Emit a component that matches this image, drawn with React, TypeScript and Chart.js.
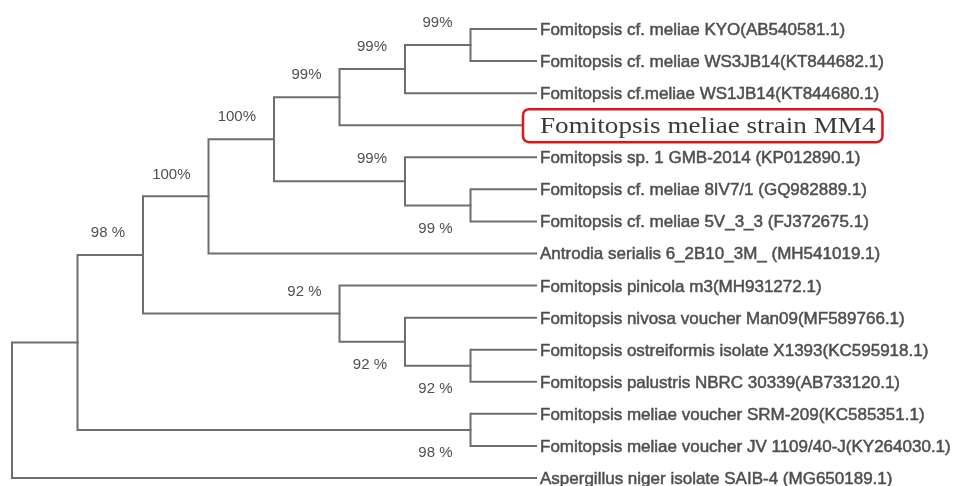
import { useEffect, useRef } from "react";
import { Chart, registerables } from "chart.js";

Chart.register(...registerables);

// Leaves, top to bottom (row index = y value)
const leafNames = [
  "Fomitopsis cf. meliae KYO(AB540581.1)",
  "Fomitopsis cf. meliae WS3JB14(KT844682.1)",
  "Fomitopsis cf.meliae WS1JB14(KT844680.1)",
  "Fomitopsis meliae strain MM4",
  "Fomitopsis sp. 1 GMB-2014 (KP012890.1)",
  "Fomitopsis cf. meliae 8IV7/1 (GQ982889.1)",
  "Fomitopsis cf. meliae 5V_3_3 (FJ372675.1)",
  "Antrodia serialis 6_2B10_3M_ (MH541019.1)",
  "Fomitopsis pinicola m3(MH931272.1)",
  "Fomitopsis nivosa voucher Man09(MF589766.1)",
  "Fomitopsis ostreiformis isolate X1393(KC595918.1)",
  "Fomitopsis palustris NBRC 30339(AB733120.1)",
  "Fomitopsis meliae voucher SRM-209(KC585351.1)",
  "Fomitopsis meliae voucher JV 1109/40-J(KY264030.1)",
  "Aspergillus niger isolate SAIB-4 (MG650189.1)",
];
const highlightedLeaf = "Fomitopsis meliae strain MM4";
const leafDepth = 8;

// Internal nodes of the cladogram
const nodeIds = ["A", "B", "C", "D", "E", "F", "G", "H", "I", "J", "K", "L", "M", "R"];
const nodeDepths = [7, 6, 5, 7, 6, 4, 3, 7, 6, 5, 2, 7, 1, 0];
const nodeChildren = [
  ["L0", "L1"],
  ["A", "L2"],
  ["B", "L3"],
  ["L5", "L6"],
  ["L4", "D"],
  ["C", "E"],
  ["F", "L7"],
  ["L10", "L11"],
  ["L9", "H"],
  ["L8", "I"],
  ["G", "J"],
  ["L12", "L13"],
  ["K", "L"],
  ["M", "L14"],
];
const nodeSupport = ["99%", "99%", "99%", "99 %", "99%", "100%", "100%", "92 %", "92 %", "92 %", "98 %", "98 %", "", ""];
const supportSide = ["above", "above", "above", "below", "above", "above", "above", "below", "below", "above", "above", "below", "", ""];

type Pt = { x: number; y: number };

function buildPositions() {
  const pos: Record<string, Pt> = {};
  leafNames.forEach((_, i) => {
    pos["L" + i] = { x: leafDepth, y: i };
  });
  nodeIds.forEach((id, i) => {
    const ys = nodeChildren[i].map((c) => pos[c].y);
    pos[id] = { x: nodeDepths[i], y: ys.reduce((a, b) => a + b, 0) / ys.length };
  });
  return pos;
}

const LINE = "#6e6e6e";
const TEXT = "#4f4f4f";
const SANS = '"Liberation Sans", Arial, sans-serif';
const SERIF = '"Liberation Serif", "Times New Roman", serif';

export default function App() {
  const ref = useRef<HTMLCanvasElement | null>(null);

  useEffect(() => {
    if (!ref.current) return;
    const pos = buildPositions();

    const datasets = nodeIds.map((id, i) => {
      const [c1, c2] = nodeChildren[i];
      const n = pos[id];
      const a = pos[c1];
      const b = pos[c2];
      return {
        label: id,
        data: [
          { x: a.x, y: a.y },
          { x: n.x, y: a.y },
          { x: n.x, y: b.y },
          { x: b.x, y: b.y },
        ],
        showLine: true,
        borderColor: LINE,
        borderWidth: 2,
        pointRadius: 0,
        fill: false,
        tension: 0,
        borderJoinStyle: "miter" as const,
        borderCapStyle: "square" as const,
      };
    });

    const labelPlugin = {
      id: "treeLabels",
      afterDatasetsDraw(chart: any) {
        const ctx = chart.ctx as CanvasRenderingContext2D;
        const xs = chart.scales.x;
        const ys = chart.scales.y;
        ctx.save();
        // support values
        ctx.font = `15px ${SANS}`;
        ctx.fillStyle = TEXT;
        ctx.textAlign = "right";
        ctx.textBaseline = "middle";
        nodeIds.forEach((id, i) => {
          const s = nodeSupport[i];
          if (!s) return;
          const px = xs.getPixelForValue(nodeDepths[i]) - 18;
          const py = ys.getPixelForValue(pos[id].y) + (supportSide[i] === "above" ? -22 : 23);
          ctx.fillText(s, px, py);
        });
        // leaf names
        ctx.textAlign = "left";
        ctx.textBaseline = "alphabetic";
        leafNames.forEach((name, i) => {
          const px = xs.getPixelForValue(leafDepth) + 4;
          const py = ys.getPixelForValue(i);
          if (name === highlightedLeaf) {
            ctx.save();
            ctx.font = `23px ${SERIF}`;
            const w = ctx.measureText(name).width;
            const sx = 1.18;
            const bx = px - 17;
            const bw = w * sx + 24;
            const by = py - 16;
            const bh = 33;
            ctx.beginPath();
            (ctx as any).roundRect(bx, by, bw, bh, 6);
            ctx.fillStyle = "#ffffff";
            ctx.fill();
            ctx.lineWidth = 2.5;
            ctx.strokeStyle = "#e0141b";
            ctx.stroke();
            ctx.fillStyle = "#3a3a3a";
            ctx.translate(px, py + 8);
            ctx.scale(sx, 1);
            ctx.fillText(name, 0, 0);
            ctx.restore();
          } else {
            ctx.font = `17px ${SANS}`;
            ctx.fillStyle = TEXT;
            ctx.strokeStyle = TEXT;
            ctx.lineWidth = 0.5;
            ctx.fillText(name, px, py + 6);
            ctx.strokeText(name, px, py + 6);
          }
        });
        ctx.restore();
      },
    };

    const chart = new Chart(ref.current, {
      type: "scatter",
      data: { datasets },
      options: {
        animation: false,
        responsive: true,
        maintainAspectRatio: false,
        layout: { padding: 0 },
        plugins: { legend: { display: false }, tooltip: { enabled: false } },
        scales: {
          x: { type: "linear", display: false, min: -12 / 65.5, max: (954 - 12) / 65.5 },
          y: { type: "linear", display: false, reverse: true, min: -29 / 32.07, max: (486 - 29) / 32.07 },
        },
      },
      plugins: [labelPlugin],
    });
    return () => chart.destroy();
  }, []);

  return (
    <div style={{ position: "fixed", left: 0, top: 0, width: 954, height: 486, background: "#fff" }}>
      <canvas ref={ref} />
    </div>
  );
}
